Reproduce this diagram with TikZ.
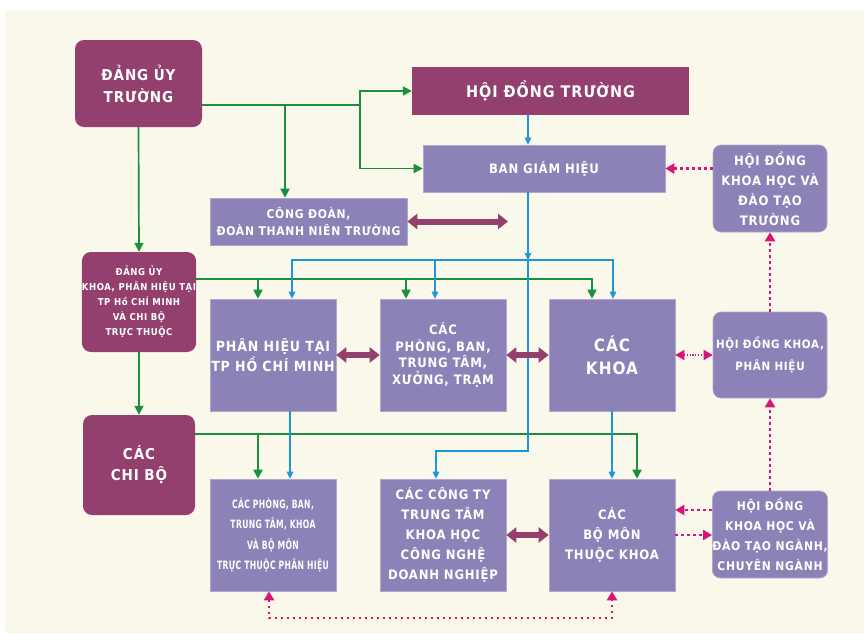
\documentclass[tikz,border=0pt]{standalone}
\usepackage{fontspec}
\setmainfont[LetterSpace=6]{DejaVu Sans Condensed}
\newfontfamily\hepfont[FakeStretch=0.74,LetterSpace=3]{DejaVu Sans Condensed Bold}
\usetikzlibrary{arrows.meta}

\definecolor{nen}{HTML}{FAF8EB}
\definecolor{tim}{HTML}{93406F}
\definecolor{oaihuong}{HTML}{8D82B7}
\definecolor{xanhla}{HTML}{1B8F3E}
\definecolor{xanhduong}{HTML}{1D96D7}
\definecolor{hong}{HTML}{D5157B}

\begin{document}
\begin{tikzpicture}[x=1pt,y=-1pt]
\tikzstyle{dang}=[rectangle, rounded corners=9pt, fill=tim, text=white, align=center, inner sep=0pt]
\tikzstyle{khoi}=[rectangle, fill=oaihuong, draw=oaihuong!70!white, line width=0.6pt, text=white, align=center, inner sep=0pt]
\tikzstyle{hoidong}=[khoi, rounded corners=8pt]
\tikzstyle{la}=[xanhla, line width=1.7pt, -{Triangle[length=9pt,width=9pt]}]
\tikzstyle{duong}=[xanhduong, line width=1.3pt, -{Triangle[length=7pt,width=6.5pt]}]
\tikzstyle{cham}=[hong, line width=2.6pt, dash pattern=on 2.6pt off 3.4pt, -{Triangle[length=9pt,width=10pt]}]
\tikzstyle{doi}=[tim, line width=6pt, {Triangle[length=10pt,width=15pt]}-{Triangle[length=10pt,width=15pt]}]

\useasboundingbox (0,0) rectangle (864,633);
\fill[white] (0,0) rectangle (864,633);
\fill[nen] (5,10) rectangle (864,633);

    \node[dang, minimum width=127pt, minimum height=87pt,
    font=\fontsize{15}{22}\selectfont\bfseries] (dut) at (138.5,83.5) {ĐẢNG ỦY\\TRƯỜNG};

    \node[dang, rounded corners=0pt, minimum width=277pt, minimum height=48pt,
    font=\fontsize{16}{20}\selectfont\bfseries] (hdt) at (550.5,91) {HỘI ĐỒNG TRƯỜNG};

    \node[khoi, minimum width=242pt, minimum height=47pt,
    font=\fontsize{13}{18}\selectfont\bfseries] (bgh) at (544,168.5) {BAN GIÁM HIỆU};

    \node[hoidong, minimum width=114pt, minimum height=87pt,
    font=\fontsize{13}{20}\selectfont\bfseries] (hdkh) at (770,188.5) {HỘI ĐỒNG\\KHOA HỌC VÀ\\ĐÀO TẠO\\TRƯỜNG};

    \node[khoi, minimum width=197pt, minimum height=47pt,
    font=\fontsize{12}{17}\selectfont\bfseries] (cd) at (308.5,221.5) {CÔNG ĐOÀN,\\ĐOÀN THANH NIÊN TRƯỜNG};

    \node[dang, minimum width=112pt, minimum height=100pt,
    font=\fontsize{9.5}{15}\selectfont\bfseries] (duk) at (139,302) {ĐẢNG ỦY\\KHOA, PHÂN HIỆU TẠI\\TP Hồ CHÍ MINH\\VÀ CHI BỘ\\TRỰC THUỘC};

    \node[khoi, minimum width=126pt, minimum height=112pt,
    font=\fontsize{14}{20}\selectfont\bfseries] (ph) at (273,355) {PHÂN HIỆU TẠI\\TP HỒ CHÍ MINH};

    \node[khoi, minimum width=126pt, minimum height=112pt,
    font=\fontsize{13}{16.5}\selectfont\bfseries] (phong) at (443,355) {CÁC\\PHÒNG, BAN,\\TRUNG TÂM,\\XƯỞNG, TRẠM};

    \node[khoi, minimum width=126pt, minimum height=112pt,
    font=\fontsize{17}{23}\selectfont\bfseries] (khoa) at (612,355) {CÁC\\KHOA};

    \node[hoidong, minimum width=114pt, minimum height=86pt,
    font=\fontsize{11.5}{22}\selectfont\bfseries] (hdk) at (770,355) {HỘI ĐỒNG KHOA,\\PHÂN HIỆU};

    \node[dang, minimum width=112pt, minimum height=100pt,
    font=\fontsize{15}{21}\selectfont\bfseries] (chibo) at (139,465) {CÁC\\CHI BỘ};

    \node[khoi, minimum width=126pt, minimum height=112pt,
    font=\fontsize{11.5}{20.5}\hepfont] (pbtt) at (273,535) {CÁC PHÒNG, BAN,\\TRUNG TÂM, KHOA\\VÀ BỘ MÔN\\TRỰC THUỘC PHÂN HIỆU};

    \node[khoi, minimum width=126pt, minimum height=112pt,
    font=\fontsize{13}{20}\selectfont\bfseries] (cty) at (443,535) {CÁC CÔNG TY\\TRUNG TÂM\\KHOA HỌC\\CÔNG NGHỆ\\DOANH NGHIỆP};

    \node[khoi, minimum width=126pt, minimum height=112pt,
    font=\fontsize{13}{20}\selectfont\bfseries] (bomon) at (612,535) {CÁC\\BỘ MÔN\\THUỘC KHOA};

    \node[hoidong, minimum width=114pt, minimum height=87pt,
    font=\fontsize{12}{20}\selectfont\bfseries] (hdn) at (770,534.5) {HỘI ĐỒNG\\KHOA HỌC VÀ\\ĐÀO TẠO NGÀNH,\\CHUYÊN NGÀNH};

\coordinate (g1) at (285,105);
\coordinate (g2) at (360,105);
\coordinate (g3) at (258,279);
\coordinate (g4) at (406,279);
\coordinate (g5) at (592,279);
\coordinate (g6) at (258,434);
\coordinate (g7) at (637,434);
\coordinate (b1) at (528,260);
\coordinate (b2) at (292,260);
\coordinate (b3) at (435,260);
\coordinate (b4) at (613,260);
\coordinate (b5) at (528,451);
\coordinate (b6) at (436,451);
\coordinate (cdr) at (508,221.5);
\coordinate (d1) at (269,618);

\draw[la] ([yshift=-21.5pt]dut.east) -- (g2) |- (hdt.west);
\draw[la] (g2) |- (bgh.west);
\draw[la] (g1) -- (g1 |- cd.north);
\draw[la] (dut.south) -- (duk.north);
\draw[la] ([yshift=23pt]duk.east) -- (g5) -- (g5 |- khoa.north);
\draw[la] (g3) -- (g3 |- ph.north);
\draw[la] (g4) -- (g4 |- phong.north);
\draw[la] (duk.south) -- (chibo.north);
\draw[la] ([yshift=31pt]chibo.east) -- (g7) -- (g7 |- bomon.north);
\draw[la] (g6) -- (g6 |- pbtt.north);

\draw[duong] (b1 |- hdt.south) -- (b1 |- bgh.north);
\draw[duong] (b1 |- bgh.south) -- (b1);
\draw[duong] (b3) -- (b2) -- (b2 |- ph.north);
\draw[duong] (b3) -- (b3 |- phong.north);
\draw[duong] (b3) -- (b4) -- (b4 |- khoa.north);
\draw[duong] (b1) -- (b5) -- (b6) -- (b6 |- cty.north);
\draw[duong] ([xshift=17pt]ph.south) -- ([xshift=17pt]pbtt.north);
\draw[duong] (khoa.south) -- (bomon.north);

\draw[doi] (cd.east) -- (cdr);
\draw[doi] (ph.east) -- (phong.west);
\draw[doi] (phong.east) -- (khoa.west);
\draw[doi] (cty.east) -- (bomon.west);

\draw[cham] (hdkh.west |- bgh.east) -- (bgh.east);
\draw[cham] (hdk.north) -- (hdkh.south);
\draw[cham] (hdn.north) -- (hdk.south);
\draw[cham, line width=1.3pt, dash pattern=on 1.3pt off 1.5pt, {Triangle[length=9pt,width=10pt]}-{Triangle[length=9pt,width=10pt]}] (khoa.east) -- (hdk.west);
\draw[cham] ([yshift=24.5pt]hdn.west) -- ([yshift=24.5pt]hdn.west -| bomon.east);
\draw[cham] (bomon.east) -- (bomon.east -| hdn.west);
\draw[cham, {Triangle[length=9pt,width=10pt]}-{Triangle[length=9pt,width=10pt]}] ([xshift=-4pt]pbtt.south) -- (d1) -| (bomon.south);
\end{tikzpicture}
\end{document}
